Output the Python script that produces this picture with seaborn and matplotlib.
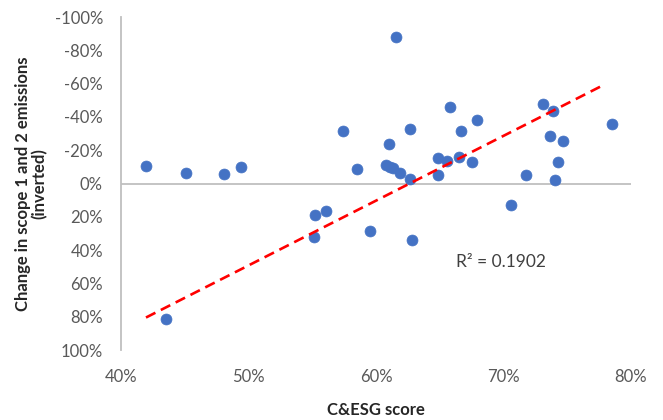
import matplotlib
matplotlib.use("Agg")
import matplotlib.pyplot as plt
import seaborn as sns
import pandas as pd
from matplotlib.ticker import FuncFormatter, MultipleLocator

# C&ESG score (x) and change in scope 1 & 2 emissions (y, shown inverted)
esg_score = [0.4196, 0.451, 0.481, 0.494, 0.574, 0.585, 0.616, 0.608, 0.611, 0.6136,
             0.619, 0.610, 0.627, 0.627, 0.658, 0.649, 0.656, 0.665, 0.6755, 0.667,
             0.679, 0.649, 0.706, 0.718, 0.731, 0.7386, 0.7365, 0.7464, 0.743, 0.740,
             0.7853, 0.628, 0.552, 0.5606, 0.551, 0.595, 0.435]
emission_change = [-0.105, -0.063, -0.057, -0.099, -0.315, -0.087, -0.880, -0.111, -0.097, -0.091,
                   -0.065, -0.237, -0.325, -0.025, -0.461, -0.151, -0.135, -0.157, -0.129, -0.314,
                   -0.381, -0.051, 0.131, -0.053, -0.476, -0.437, -0.283, -0.255, -0.127, -0.019,
                   -0.359, 0.339, 0.189, 0.167, 0.323, 0.287, 0.812]
# trend line as drawn in the chart (end points)
trend_x = [0.4196, 0.7796]
trend_y = [0.805, -0.596]
r2_label = "R² = 0.1902"
x_label = "C&ESG score"
y_label = "Change in scope 1 and 2 emissions\n(inverted)"

df = pd.DataFrame({"score": esg_score, "change": emission_change})
trend = pd.DataFrame({"score": trend_x, "change": trend_y})

sns.set_theme(style="white")
plt.rcParams["font.family"] = ["Lato", "DejaVu Sans"]

fig = plt.figure(figsize=(6.63, 4.2), dpi=100)
ax = fig.add_axes([121/663, 1-350/420, (631-121)/663, (350-17)/420])

grey = "#BFBFBF"
ax.axhline(0, color=grey, lw=1.3, zorder=1)

sns.scatterplot(data=df, x="score", y="change", ax=ax, s=62, color="#4472C4",
                edgecolor="#4472C4", linewidth=0.5, alpha=1, zorder=3)
sns.lineplot(data=trend, x="score", y="change", ax=ax, color="#FF0000", lw=1.9, zorder=4)
ax.lines[-1].set_dashes((4, 2.3))

ax.set_xlim(0.4, 0.8)
ax.set_ylim(1.0, -1.0)
ax.xaxis.set_major_locator(MultipleLocator(0.1))
ax.yaxis.set_major_locator(MultipleLocator(0.2))
ax.xaxis.set_major_formatter(FuncFormatter(lambda v, p: f"{round(v*100):d}%"))
ax.yaxis.set_major_formatter(FuncFormatter(lambda v, p: f"{round(v*100):d}%"))

for s in ["top", "right", "bottom"]:
    ax.spines[s].set_visible(False)
ax.spines["left"].set_color(grey)
ax.spines["left"].set_linewidth(1.3)

ax.tick_params(axis="both", length=0, labelsize=12, labelcolor="#595959")
ax.tick_params(axis="x", pad=14)
ax.tick_params(axis="y", pad=13)

ax.set_xlabel(x_label, fontsize=12, fontweight="bold", color="#262626", labelpad=12)
ax.set_ylabel(y_label, fontsize=12, fontweight="bold", color="#262626", labelpad=5, linespacing=1.05)

ax.text(0.663, 0.471, r2_label, fontsize=12.5, color="#404040", ha="left", va="center")

fig.savefig("out.png", dpi=100)
